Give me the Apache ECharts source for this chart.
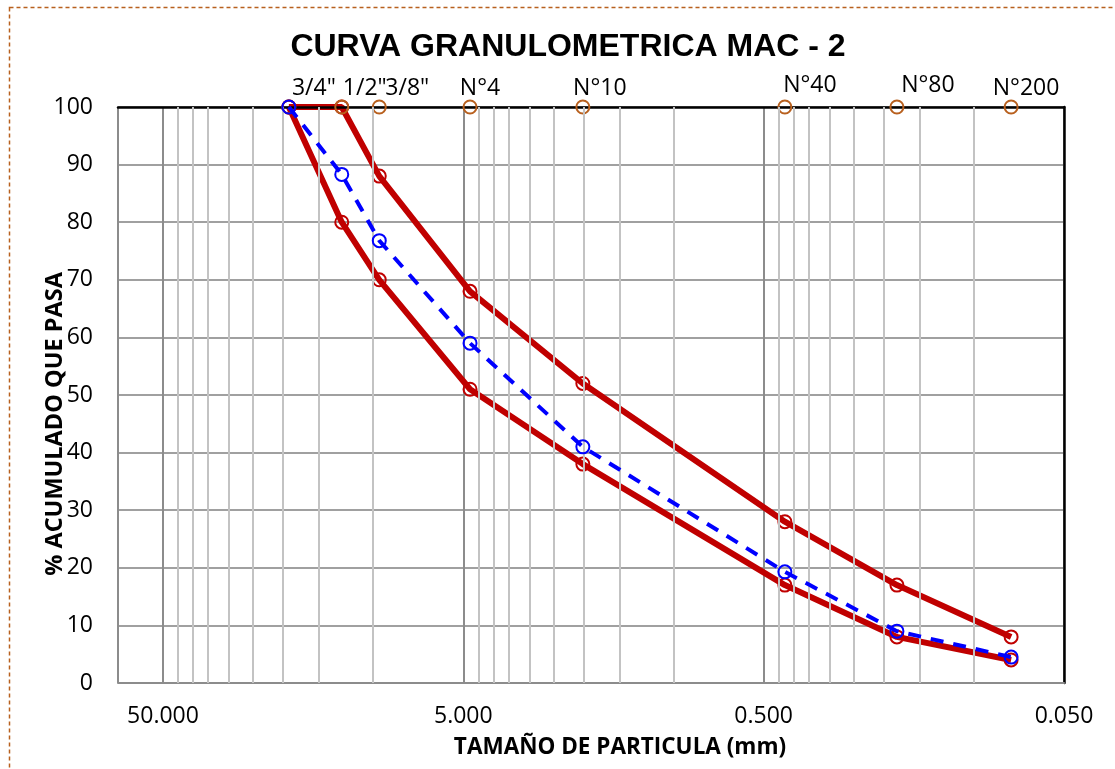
<!DOCTYPE html>
<html>
<head>
<meta charset="utf-8">
<script src="https://cdn.jsdelivr.net/npm/echarts@6/dist/echarts.min.js"></script>
<style>
  html, body { margin: 0; padding: 0; background: #fff; }
  #chart { width: 1115px; height: 769px; }
</style>
</head>
<body>
<div id="chart"></div>
<script>
// ---- data ----
const sieveNames = ['3/4"', '1/2"', '3/8"', 'N°4', 'N°10', 'N°40', 'N°80', 'N°200'];
const sieveSizes = [19.05, 12.7, 9.525, 4.75, 2.0, 0.425, 0.18, 0.075];
const sieveMarks = [100, 100, 100, 100, 100, 100, 100, 100];
const upperLimit = [100, 100, 88, 68, 52, 28, 17, 8];
const lowerLimit = [100, 80, 70, 51, 38, 17, 8, 4];
const passing    = [100, 88.3, 76.8, 59, 41, 19.3, 9, 4.5];
const xTickValues = [50, 5, 0.5, 0.05];
const minorGridValues = [45, 40, 35, 30, 25, 20, 15, 10,
                         4.5, 4, 3.5, 3, 2.5, 2, 1.5, 1,
                         0.45, 0.4, 0.35, 0.3, 0.25, 0.2, 0.15, 0.1];
const xMin = 0.05, xMax = 70.6;
const yTicks = { min: 0, max: 100, interval: 10 };

// ---- styling (label placement of sieve names) ----
const labelDx = [25, 23, 28, 10, 17, 25, 31, 15];
const labelDy = [-19, -19, -19, -19, -19, -22, -22, -19];

// log transform (axis is a value axis in decades above xMin)
const u = d => Math.log10(d / xMin);
const pts = arr => arr.map((v, i) => [u(sieveSizes[i]), v]);

const FONT = '"Open Sans", sans-serif';
const RED = '#C00000', BLUE = '#0000FF', BROWN = '#B8601E';

const chart = echarts.init(document.getElementById('chart'), null, { renderer: 'canvas' });

const xAxisBase = {
  type: 'value', inverse: true, min: 0, max: u(xMax), interval: 1
};

chart.setOption({
  backgroundColor: '#fff',
  animation: false,
  title: {
    text: 'CURVA GRANULOMETRICA MAC - 2',
    left: 563, top: 26, textAlign: 'center',
    textStyle: { fontFamily: '"Liberation Sans", Arial, sans-serif', fontWeight: 'bold', fontSize: 32, color: '#000' }
  },
  grid: { left: 118, right: 51, top: 107, bottom: 86, containLabel: false },
  xAxis: [
    Object.assign({}, xAxisBase, {
      position: 'bottom',
      axisLine: { show: true, onZero: false, lineStyle: { color: '#8C8C8C', width: 2 } },
      axisTick: { show: false },
      splitLine: { show: true, lineStyle: { color: '#8C8C8C', width: 2 } },
      axisLabel: {
        showMaxLabel: false,
        margin: 22, fontFamily: FONT, fontSize: 23, color: '#000',
        formatter: v => {
          const r = Math.round(v);
          if (Math.abs(v - r) > 1e-6) return '';
          return (xMin * Math.pow(10, r)).toFixed(3);
        }
      }
    }),
    Object.assign({}, xAxisBase, {
      position: 'top', z: 3,
      axisLine: { show: true, onZero: false, lineStyle: { color: '#000', width: 2.5 } },
      axisTick: { show: false }, axisLabel: { show: false }, splitLine: { show: false }
    })
  ],
  yAxis: [
    {
      type: 'value', min: yTicks.min, max: yTicks.max, interval: yTicks.interval,
      axisLine: { show: true, lineStyle: { color: '#8C8C8C', width: 2 } },
      axisTick: { show: false },
      splitLine: { show: true, lineStyle: { color: '#A0A0A0', width: 2 } },
      axisLabel: { margin: 25, fontFamily: FONT, fontSize: 23, color: '#000' }
    },
    {
      type: 'value', position: 'right', min: yTicks.min, max: yTicks.max, interval: yTicks.interval,
      axisLine: { show: true, lineStyle: { color: '#000', width: 2.5 } },
      axisTick: { show: false }, axisLabel: { show: false }, splitLine: { show: false }
    }
  ],
  graphic: [
    {
      type: 'rect', silent: true, z: -1,
      shape: { x: 9.5, y: 7.5, width: 1300, height: 900 },
      style: { fill: 'none', stroke: BROWN, lineWidth: 1.5, lineDash: [4, 3] }
    },
    {
      type: 'text', x: 620, y: 748, silent: true,
      style: { text: 'TAMAÑO DE PARTICULA (mm)', fontFamily: FONT, fontWeight: 'bold', fontSize: 22.5,
               fill: '#000', textAlign: 'center', textVerticalAlign: 'middle' }
    },
    {
      type: 'text', x: 55, y: 424, rotation: Math.PI / 2, silent: true,
      style: { text: '% ACUMULADO QUE PASA', fontFamily: FONT, fontWeight: 'bold', fontSize: 23.5,
               fill: '#000', textAlign: 'center', textVerticalAlign: 'middle' }
    }
  ],
  series: [
    {
      name: 'minor', type: 'line', data: [], silent: true,
      markLine: {
        silent: true, symbol: 'none', label: { show: false }, animation: false,
        lineStyle: { color: '#C3C3C3', width: 2, type: 'solid' },
        data: minorGridValues.map(v => ({ xAxis: u(v) }))
      }
    },
    {
      name: 'Limite superior', type: 'line', z: 2, data: pts(upperLimit),
      lineStyle: { color: RED, width: 6 },
      symbol: 'circle', symbolSize: 13,
      itemStyle: { color: 'rgba(0,0,0,0)', borderColor: RED, borderWidth: 2 }
    },
    {
      name: 'Limite inferior', type: 'line', z: 2, data: pts(lowerLimit),
      lineStyle: { color: RED, width: 6 },
      symbol: 'circle', symbolSize: 13,
      itemStyle: { color: 'rgba(0,0,0,0)', borderColor: RED, borderWidth: 2 }
    },
    {
      name: 'Tamices', type: 'line', z: 4,
      data: sieveMarks.map((v, i) => ({
        value: [u(sieveSizes[i]), v],
        label: { offset: [labelDx[i], labelDy[i]] }
      })),
      lineStyle: { width: 0, opacity: 0 },
      symbol: 'circle', symbolSize: 13,
      itemStyle: { color: 'rgba(0,0,0,0)', borderColor: BROWN, borderWidth: 2 },
      label: {
        show: true, position: 'inside', fontFamily: FONT, fontSize: 23, color: '#000',
        formatter: p => sieveNames[p.dataIndex]
      }
    },
    {
      name: 'MAC - 2', type: 'line', z: 5, data: pts(passing),
      lineStyle: { color: BLUE, width: 4, type: [13, 10] },
      symbol: 'circle', symbolSize: 13,
      itemStyle: { color: 'rgba(0,0,0,0)', borderColor: BLUE, borderWidth: 2 }
    }
  ]
});
</script>
</body>
</html>
